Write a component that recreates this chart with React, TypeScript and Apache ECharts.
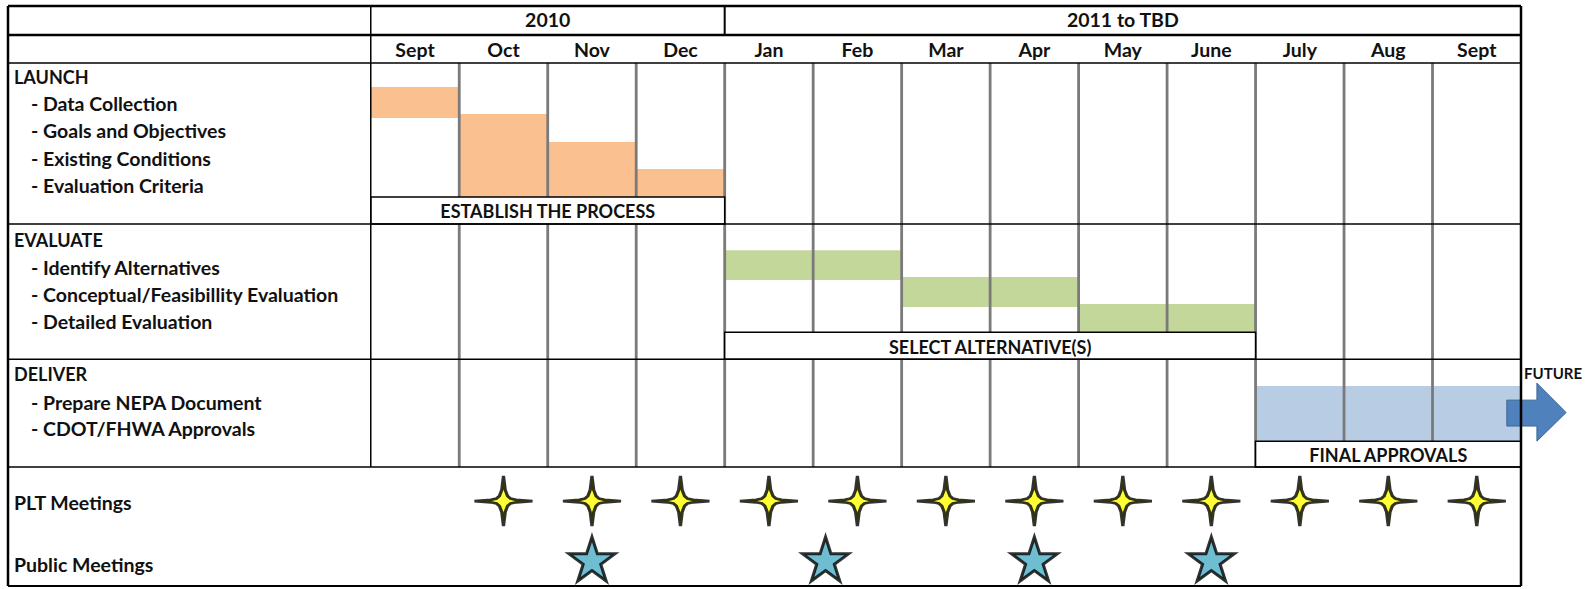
import React, { useEffect, useRef } from 'react';
import * as echarts from 'echarts';

// ---------- DATA ----------
const months = ['Sept', 'Oct', 'Nov', 'Dec', 'Jan', 'Feb', 'Mar', 'Apr', 'May', 'June', 'July', 'Aug', 'Sept'];
const yearLabels = ['2010', '2011 to TBD'];
const yearStart = [0, 4];
const yearEnd = [4, 13];

const sectionTitles = ['LAUNCH', 'EVALUATE', 'DELIVER'];
const sectionTitleRows = [2.63, 8.68, 13.64];

const taskLabels = [
  '- Data Collection',
  '- Goals and Objectives',
  '- Existing Conditions',
  '- Evaluation Criteria',
  '- Identify Alternatives',
  '- Conceptual/Feasibillity Evaluation',
  '- Detailed Evaluation',
  '- Prepare NEPA Document',
  '- CDOT/FHWA Approvals',
];
const taskRows = [3.63, 4.63, 5.64, 6.64, 9.68, 10.68, 11.68, 14.68, 15.68];

const meetingLabels = ['PLT Meetings', 'Public Meetings'];
const meetingRows = [18.39, 20.69];

// Gantt bars (month index: 0 = Sept 2010)
const barStartMonth = [0, 1, 2, 3, 4, 6, 8, 10];
const barEndMonth = [1, 2, 3, 4, 6, 8, 10, 13];
const barTopRow = [3.0, 4.0, 5.04, 6.04, 9.05, 10.05, 11.05, 14.09];
const barBottomRow = [4.15, 7.08, 7.08, 7.08, 10.16, 11.16, 12.09, 16.13];
const barPhase = [0, 0, 0, 0, 1, 1, 1, 2];
const phaseColors = ['#FAC090', '#C4D79B', '#B8CCE4'];

// Phase boxes
const phaseLabels = ['ESTABLISH THE PROCESS', 'SELECT ALTERNATIVE(S)', 'FINAL APPROVALS'];
const phaseStart = [0, 4, 10];
const phaseEnd = [4, 10, 13];
const phaseTop = [7.08, 12.09, 16.13];
const phaseBottom = [8.08, 13.09, 17.09];

// Table frame
const frameRows = [0, 1.075, 2.11, 8.08, 13.09, 17.09, 21.5];
const frameRowWidths = [2.5, 2.5, 1.5, 1.5, 1.5, 1.5, 2];
const labelColStart = -4.1;
const tableEnd = 13;
const bodyTop = 2.11;
const bodyBottom = 17.09;

// Meetings (x = month position)
const pltMeetingMonths = [1.5, 2.5, 3.5, 4.5, 5.5, 6.5, 7.5, 8.5, 9.5, 10.5, 11.5, 12.5];
const publicMeetingMonths = [2.5, 5.14, 7.5, 9.5];
const pltStarRow = 18.35;
const publicStarRow = 20.5;

// Future arrow
const arrowX = [12.84, 13.18, 13.51]; // shaft start, head base, tip
const arrowRows = [14.61, 15.57, 13.98, 16.13, 15.07]; // shaft top, shaft bottom, head top, head bottom, center
const futureLabel = 'FUTURE';

// ---------- BUILD ----------
const FONT = 'Lato, "Open Sans", sans-serif';
const TEXT_COLOR = '#111111';
const MIXED = 19.5;
const CAPS = 18;

type TextItem = { text: string; x: number; y: number; dx: number; align: string; size: number };
const textItems: TextItem[] = [];
yearLabels.forEach((t, i) =>
  textItems.push({ text: t, x: (yearStart[i] + yearEnd[i]) / 2, y: 0.5, dx: 0, align: 'center', size: MIXED })
);
months.forEach((m, i) => textItems.push({ text: m, x: i + 0.5, y: 1.62, dx: 0, align: 'center', size: MIXED }));
sectionTitles.forEach((t, i) =>
  textItems.push({ text: t, x: labelColStart, y: sectionTitleRows[i], dx: 6, align: 'left', size: CAPS })
);
taskLabels.forEach((t, i) =>
  textItems.push({ text: t, x: labelColStart, y: taskRows[i], dx: 23, align: 'left', size: MIXED })
);
meetingLabels.forEach((t, i) =>
  textItems.push({ text: t, x: labelColStart, y: meetingRows[i], dx: 6, align: 'left', size: MIXED })
);
textItems.push({ text: futureLabel, x: tableEnd, y: 13.6, dx: 3, align: 'left', size: 15 });

type LineItem = [number, number, number, number, number, string];
const frameLines: LineItem[] = [];
frameRows.forEach((r, i) => frameLines.push([labelColStart, r, tableEnd, r, frameRowWidths[i], '#000']));
frameLines.push([labelColStart, 0, labelColStart, frameRows[frameRows.length - 1], 2.5, '#000']);
frameLines.push([tableEnd, 0, tableEnd, frameRows[frameRows.length - 1], 2.5, '#000']);
frameLines.push([0, 0, 0, bodyBottom, 1.5, '#000']);
frameLines.push([yearStart[1], 0, yearStart[1], frameRows[1], 2, '#000']);

const dividerLines: LineItem[] = [];
for (let m = 1; m < months.length; m++) dividerLines.push([m, bodyTop, m, bodyBottom, 2.8, '#7a7a7a']);

const starPath4 =
  'path://M50,0 L53,28 L57,40 L62,45 L72,47.5 L100,50 L72,52.5 L62,55 L57,60 L53,72 L50,100 L47,72 L43,60 L38,55 L28,52.5 L0,50 L28,47.5 L38,45 L43,40 L47,28 Z';
const starPath5 =
  'path://M50,0 L61.23,34.55 L97.55,34.55 L68.16,55.9 L79.39,90.45 L50,69.1 L20.61,90.45 L31.84,55.9 L2.45,34.55 L38.77,34.55 Z';

function lineRender(list: LineItem[]) {
  return (params: any, api: any) => {
    const l = list[params.dataIndex];
    const a = api.coord([l[0], l[1]]);
    const b = api.coord([l[2], l[3]]);
    return {
      type: 'line',
      shape: { x1: a[0], y1: a[1], x2: b[0], y2: b[1] },
      style: { stroke: l[5], lineWidth: l[4] },
    };
  };
}

const option: any = {
  animation: false,
  backgroundColor: '#ffffff',
  grid: { left: 8, top: 6, width: 1513, height: 580, containLabel: false },
  xAxis: { type: 'value', min: labelColStart, max: tableEnd, show: false },
  yAxis: { type: 'value', min: 0, max: frameRows[frameRows.length - 1], inverse: true, show: false },
  series: [
    {
      type: 'custom',
      name: 'bars',
      z: 1,
      data: barStartMonth.map((s, i) => [s, barTopRow[i], barEndMonth[i], barBottomRow[i]]),
      renderItem: (params: any, api: any) => {
        const a = api.coord([api.value(0), api.value(1)]);
        const b = api.coord([api.value(2), api.value(3)]);
        return {
          type: 'rect',
          shape: { x: a[0], y: a[1], width: b[0] - a[0], height: b[1] - a[1] },
          style: { fill: phaseColors[barPhase[params.dataIndex]] },
        };
      },
    },
    {
      type: 'custom',
      name: 'dividers',
      z: 2,
      data: dividerLines.map((l) => [l[0], l[1]]),
      renderItem: lineRender(dividerLines),
    },
    {
      type: 'custom',
      name: 'arrow',
      z: 3,
      data: [[arrowX[0], arrowRows[4]]],
      renderItem: (params: any, api: any) => {
        const pts = [
          [arrowX[0], arrowRows[0]],
          [arrowX[1], arrowRows[0]],
          [arrowX[1], arrowRows[2]],
          [arrowX[2], arrowRows[4]],
          [arrowX[1], arrowRows[3]],
          [arrowX[1], arrowRows[1]],
          [arrowX[0], arrowRows[1]],
        ].map((p) => api.coord(p));
        return {
          type: 'polygon',
          shape: { points: pts },
          style: { fill: '#4F81BD', stroke: '#3A6797', lineWidth: 1 },
        };
      },
    },
    {
      type: 'custom',
      name: 'phases',
      z: 4,
      data: phaseStart.map((s, i) => [s, phaseTop[i], phaseEnd[i], phaseBottom[i]]),
      renderItem: (params: any, api: any) => {
        const a = api.coord([api.value(0), api.value(1)]);
        const b = api.coord([api.value(2), api.value(3)]);
        return {
          type: 'group',
          children: [
            {
              type: 'rect',
              shape: { x: a[0], y: a[1], width: b[0] - a[0], height: b[1] - a[1] },
              style: { fill: '#ffffff', stroke: '#000000', lineWidth: 1.5 },
            },
            {
              type: 'text',
              x: (a[0] + b[0]) / 2,
              y: (a[1] + b[1]) / 2 + 1,
              style: {
                text: phaseLabels[params.dataIndex],
                fill: TEXT_COLOR,
                font: `bold ${CAPS}px ${FONT}`,
                align: 'center',
                verticalAlign: 'middle',
              },
            },
          ],
        };
      },
    },
    {
      type: 'custom',
      name: 'frame',
      z: 5,
      data: frameLines.map((l) => [l[0], l[1]]),
      renderItem: lineRender(frameLines),
    },
    {
      type: 'custom',
      name: 'labels',
      z: 6,
      data: textItems.map((t) => [t.x, t.y]),
      renderItem: (params: any, api: any) => {
        const t = textItems[params.dataIndex];
        const p = api.coord([t.x, t.y]);
        return {
          type: 'text',
          x: p[0] + t.dx,
          y: p[1],
          style: {
            text: t.text,
            fill: TEXT_COLOR,
            font: `bold ${t.size}px ${FONT}`,
            align: t.align,
            verticalAlign: 'middle',
          },
        };
      },
    },
    {
      type: 'scatter',
      name: 'PLT Meetings',
      z: 7,
      symbol: starPath4,
      symbolSize: [58, 50],
      itemStyle: { color: '#FFFF00', borderColor: '#000000', borderWidth: 3 },
      data: pltMeetingMonths.map((m) => [m, pltStarRow]),
    },
    {
      type: 'scatter',
      name: 'Public Meetings',
      z: 7,
      symbol: starPath5,
      symbolSize: [46, 44],
      itemStyle: { color: '#4BACC6', borderColor: '#000000', borderWidth: 3 },
      data: publicMeetingMonths.map((m) => [m, publicStarRow]),
    },
  ],
};

export default function App() {
  const ref = useRef<HTMLDivElement>(null);
  useEffect(() => {
    document.body.style.margin = '0';
    const chart = echarts.init(ref.current as HTMLDivElement, null, { renderer: 'svg' });
    chart.setOption(option);
    return () => chart.dispose();
  }, []);
  return (
    <div
      ref={ref}
      style={{ width: 1585, height: 589, position: 'absolute', left: 0, top: 0, background: '#fff' }}
    />
  );
}
